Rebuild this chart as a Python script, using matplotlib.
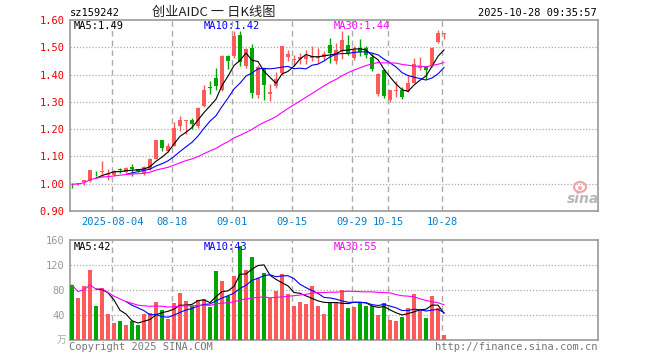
import matplotlib
matplotlib.use("Agg")
import matplotlib.pyplot as plt
from matplotlib.patches import Ellipse
import numpy as np
import pandas as pd

# ---------------- data ----------------
dates = ["2025-07-24","2025-07-25","2025-07-28","2025-07-29","2025-07-30","2025-07-31",
         "2025-08-01","2025-08-04","2025-08-05","2025-08-06","2025-08-07","2025-08-08",
         "2025-08-11","2025-08-12","2025-08-13","2025-08-14","2025-08-15","2025-08-18",
         "2025-08-19","2025-08-20","2025-08-21","2025-08-22","2025-08-25","2025-08-26",
         "2025-08-27","2025-08-28","2025-08-29","2025-09-01","2025-09-02","2025-09-03",
         "2025-09-04","2025-09-05","2025-09-08","2025-09-09","2025-09-10","2025-09-11",
         "2025-09-12","2025-09-15","2025-09-16","2025-09-17","2025-09-18","2025-09-19",
         "2025-09-22","2025-09-23","2025-09-24","2025-09-25","2025-09-26","2025-09-29",
         "2025-09-30","2025-10-09","2025-10-10","2025-10-13","2025-10-14","2025-10-15",
         "2025-10-16","2025-10-17","2025-10-20","2025-10-21","2025-10-22","2025-10-23",
         "2025-10-24","2025-10-27","2025-10-28"]

open_ = [1.000, 0.999, 1.006, 1.010, 1.044, 1.043, 1.032, 1.031, 1.053, 1.044,
         1.060, 1.053, 1.037, 1.054, 1.092, 1.159, 1.120, 1.140, 1.212, 1.230,
         1.232, 1.212, 1.285, 1.356, 1.388, 1.343, 1.467, 1.467, 1.545, 1.430,
         1.497, 1.325, 1.423, 1.330, 1.357, 1.405, 1.466, 1.452, 1.456, 1.456,
         1.462, 1.460, 1.466, 1.510, 1.450, 1.487, 1.508, 1.460, 1.497, 1.497,
         1.464, 1.327, 1.418, 1.308, 1.340, 1.344, 1.339, 1.370, 1.425, 1.431,
         1.431, 1.520, 1.550]
high = [1.002, 1.001, 1.013, 1.051, 1.047, 1.083, 1.055, 1.049, 1.056, 1.060,
        1.073, 1.055, 1.066, 1.094, 1.160, 1.160, 1.148, 1.226, 1.248, 1.234,
        1.241, 1.280, 1.361, 1.376, 1.425, 1.470, 1.473, 1.559, 1.560, 1.497,
        1.513, 1.435, 1.425, 1.366, 1.410, 1.505, 1.490, 1.470, 1.480, 1.490,
        1.505, 1.498, 1.486, 1.535, 1.515, 1.558, 1.545, 1.504, 1.531, 1.505,
        1.480, 1.404, 1.420, 1.345, 1.376, 1.356, 1.400, 1.461, 1.464, 1.433,
        1.500, 1.563, 1.554]
low = [0.985, 0.996, 0.995, 1.008, 1.027, 1.026, 1.013, 1.028, 1.040, 1.040,
       1.030, 1.042, 1.033, 1.052, 1.090, 1.119, 1.115, 1.138, 1.195, 1.183,
       1.199, 1.205, 1.282, 1.328, 1.345, 1.338, 1.420, 1.460, 1.430, 1.425,
       1.315, 1.313, 1.305, 1.302, 1.352, 1.400, 1.450, 1.432, 1.438, 1.440,
       1.449, 1.443, 1.455, 1.443, 1.440, 1.458, 1.470, 1.455, 1.468, 1.462,
       1.412, 1.322, 1.315, 1.300, 1.317, 1.312, 1.335, 1.368, 1.418, 1.382,
       1.428, 1.515, 1.532]
close = [0.998, 1.000, 1.012, 1.049, 1.042, 1.046, 1.035, 1.047, 1.051, 1.059,
         1.054, 1.046, 1.060, 1.092, 1.159, 1.130, 1.140, 1.206, 1.233, 1.233,
         1.218, 1.276, 1.345, 1.352, 1.358, 1.467, 1.449, 1.540, 1.445, 1.495,
         1.332, 1.428, 1.360, 1.335, 1.385, 1.504, 1.474, 1.457, 1.465, 1.468,
         1.467, 1.467, 1.477, 1.480, 1.490, 1.525, 1.478, 1.495, 1.484, 1.471,
         1.421, 1.402, 1.320, 1.342, 1.342, 1.317, 1.370, 1.437, 1.431, 1.418,
         1.496, 1.553, 1.553]
volume = [88, 67, 86, 112, 54, 84, 42, 28, 30, 24,
          30, 24, 42, 44, 61, 48, 34, 60, 75, 62,
          54, 64, 66, 53, 110, 94, 70, 102, 150, 112,
          133, 99, 107, 67, 79, 106, 74, 54, 61, 58,
          86, 54, 42, 59, 59, 80, 51, 53, 59, 54,
          55, 40, 60, 32, 31, 37, 51, 74, 49, 35,
          70, 51, 8.5]

date_ticks = ["2025-08-04", "2025-08-18", "2025-09-01", "2025-09-15",
              "2025-09-29", "2025-10-15", "2025-10-28"]
date_tick_labels = ["2025-08-04", "08-18", "09-01", "09-15", "09-29", "10-15", "10-28"]
price_ticks = [0.90, 1.00, 1.10, 1.20, 1.30, 1.40, 1.50, 1.60]
vol_ticks = [40, 80, 120, 160]

title = "创业AIDC 一 日K线图"
code = "sz159242"
stamp = "2025-10-28 09:35:57"
price_ma_text = ["MA5:1.49", "MA10:1.42", "MA30:1.44"]
vol_ma_text = ["MA5:42", "MA10:43", "MA30:55"]

# ---------------- styling ----------------
RED = "#ff5a5a"
GREEN = "#00a600"
GRID = "#aaaaaa"
SPINE = "#999999"
MONO = "DejaVu Sans Mono"

n = len(close)
x = np.arange(n)
o = np.array(open_); c = np.array(close); h = np.array(high); l = np.array(low)
v = np.array(volume, dtype=float)
up = c >= o
cols = np.where(up, RED, GREEN)

cs = pd.Series(c)
ma5 = cs.rolling(5).mean()
ma10 = cs.rolling(10).mean()
ma30 = cs.rolling(30, min_periods=1).mean()
vs = pd.Series(v)
vma5 = vs.rolling(5).mean()
vma10 = vs.rolling(10).mean()
vma30 = vs.rolling(30, min_periods=1).mean()

W, H = 660, 360
fig = plt.figure(figsize=(6.6, 3.6), dpi=100)

def fx(px): return px / W
def fy(py): return 1 - py / H

ax1 = fig.add_axes([fx(70), fy(211), fx(597.5) - fx(70), fy(20) - fy(211)])
ax2 = fig.add_axes([fx(70), fy(340), fx(597.5) - fx(70), fy(240) - fy(340)])

xmin, xmax = -0.33, 87.58
tick_pos = [dates.index(d) - 0.28 for d in date_ticks]

for ax in (ax1, ax2):
    ax.set_xlim(xmin, xmax)
    for s in ax.spines.values():
        s.set_color(SPINE)
        s.set_linewidth(1.2)
    for tp in tick_pos:
        ax.axvline(tp, color=GRID, lw=1, ls=(0, (4, 3)), zorder=0)
    ax.tick_params(length=0)

# --- price panel ---
ax1.set_ylim(0.90, 1.60)
for yv in price_ticks[1:-1]:
    ax1.axhline(yv, color=GRID, lw=0.9, ls=(0, (1, 1.5)), zorder=0)
body_bottom = np.minimum(o, c)
body_h = np.maximum(np.abs(c - o), 0.0025)
ax1.vlines(x, l, h, colors=cols, lw=1, zorder=2)
ax1.bar(x, body_h, bottom=body_bottom, width=0.8, color=cols, zorder=3, linewidth=0)
ax1.plot(x, ma5, color="black", lw=0.8, zorder=4)
ax1.plot(x, ma10, color="#0000ff", lw=0.8, zorder=4)
ax1.plot(x, ma30, color="#ff00ff", lw=0.8, zorder=4)

ax1.set_yticks(price_ticks)
ax1.set_yticklabels([f"{t:.2f}" for t in price_ticks], color="#ee0000",
                    fontfamily=MONO, fontsize=7.5)
ax1.tick_params(axis="y", pad=4)
ax1.set_xticks(tick_pos)
ax1.set_xticklabels(date_tick_labels, color="#0080d0", fontfamily=MONO, fontsize=7.5)
ax1.tick_params(axis="x", pad=4)

ax1.text(fx(74), fy(26), price_ma_text[0], transform=fig.transFigure, color="black",
         fontfamily=MONO, fontsize=7.5, va="center", ha="left")
ax1.text(fx(204), fy(26), price_ma_text[1], transform=fig.transFigure, color="#0000ff",
         fontfamily=MONO, fontsize=7.5, va="center", ha="left")
ax1.text(fx(334), fy(26), price_ma_text[2], transform=fig.transFigure, color="#ff00ff",
         fontfamily=MONO, fontsize=7.5, va="center", ha="left")

# sina logo: gray word plus a light-red "eye" drawn as shapes
fig.text(fx(583), fy(199), "sina", color="#b8b8b8", fontsize=10, fontweight="bold",
         style="italic", ha="center", va="center", family="DejaVu Sans")
fig.add_artist(Ellipse((fx(580), fy(187)), fx(12), 10 / H, transform=fig.transFigure,
                       facecolor="none", edgecolor="#f4a6a6", lw=1.6))
fig.add_artist(Ellipse((fx(580), fy(188)), fx(4), 4 / H, transform=fig.transFigure,
                       facecolor="#f4a6a6", edgecolor="none"))

# --- volume panel ---
ax2.set_ylim(0, 160)
for yv in vol_ticks[:-1]:
    ax2.axhline(yv, color=GRID, lw=0.9, ls=(0, (1, 1.5)), zorder=0)
ax2.bar(x, v, width=0.8, color=cols, zorder=3, linewidth=0)
ax2.plot(x, vma5, color="black", lw=0.8, zorder=4)
ax2.plot(x, vma10, color="#0000ff", lw=0.8, zorder=4)
ax2.plot(x, vma30, color="#ff00ff", lw=0.8, zorder=4)
ax2.set_yticks(vol_ticks)
ax2.set_yticklabels([str(t) for t in vol_ticks], color="#999999", fontfamily=MONO,
                    fontsize=7.5)
ax2.tick_params(axis="y", pad=4)
ax2.set_xticks([])

ax2.text(fx(74), fy(247), vol_ma_text[0], transform=fig.transFigure, color="black",
         fontfamily=MONO, fontsize=7.5, va="center", ha="left")
ax2.text(fx(204), fy(247), vol_ma_text[1], transform=fig.transFigure, color="#0000ff",
         fontfamily=MONO, fontsize=7.5, va="center", ha="left")
ax2.text(fx(334), fy(247), vol_ma_text[2], transform=fig.transFigure, color="#ff00ff",
         fontfamily=MONO, fontsize=7.5, va="center", ha="left")
fig.text(fx(66), fy(340), "万", color="#aaaaaa", fontsize=7, ha="right", va="center",
         family=["Noto Sans CJK SC", "DejaVu Sans"])

# --- header/footer ---
fig.text(fx(70), fy(13), code, color="black", fontfamily=MONO, fontsize=7.5,
         ha="left", va="center")
fig.text(fx(214), fy(12), title, color="#222222", fontsize=9.5, ha="center", va="center",
         family=["Noto Sans CJK SC", "DejaVu Sans"])
fig.text(fx(597), fy(13), stamp, color="black", fontfamily=MONO, fontsize=7.5,
         ha="right", va="center")
fig.text(fx(69), fy(347), "Copyright 2025 SINA.COM", color="#777777", fontfamily=MONO,
         fontsize=7.5, ha="left", va="center")
fig.text(fx(598), fy(347), "http://finance.sina.com.cn", color="#777777", fontfamily=MONO,
         fontsize=7.5, ha="right", va="center")

fig.savefig("out.png", dpi=100, facecolor="white")
